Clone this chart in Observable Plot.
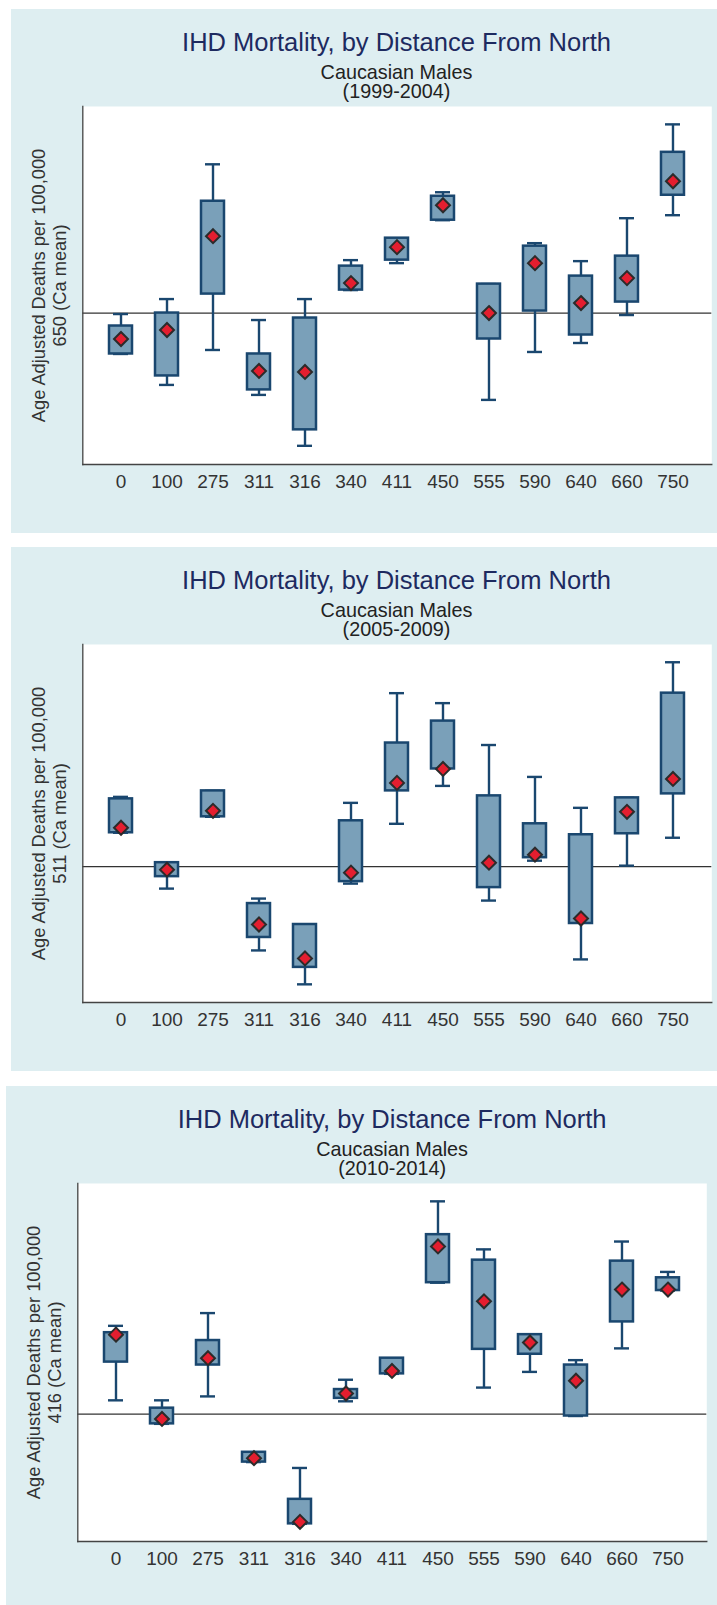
<!DOCTYPE html>
<html><head><meta charset="utf-8">
<script src="https://cdn.jsdelivr.net/npm/d3@7"></script>
<script src="https://cdn.jsdelivr.net/npm/@observablehq/plot@0.6"></script>
<style>
html,body{margin:0;padding:0;background:#fff;overflow:hidden;width:717px;height:1605px;}
.panel{position:absolute;background:#deeef1;overflow:hidden;font-family:"Liberation Sans",Arial,sans-serif;}
.title{position:absolute;left:71.3px;width:629px;text-align:center;color:#1d2a60;font-size:25.5px;line-height:25.5px;top:21.1px;white-space:nowrap;}
.sub{position:absolute;left:71.3px;width:629px;text-align:center;color:#222;font-size:19.8px;line-height:19px;top:53.8px;white-space:nowrap;}
.chart{position:absolute;left:0;top:80px;}
</style></head><body>
<script>
// Categories: distance from north
const cats = ["0","100","275","311","316","340","411","450","555","590","640","660","750"];

const titleText = "IHD Mortality, by Distance From North";
const subtitleText = "Caucasian Males";
const yLabel = "Age Adjusted Deaths per 100,000";

// Panel 1: 1999-2004 (Ca mean 650)
const p1Period = "(1999-2004)";
const p1Ref = 650;
const p1Domain = [498.3, 856.9];
const p1Lo   = [609, 578, 613, 568, 517, 673, 700, 743, 563, 611, 620, 648, 748];
const p1Q1   = [609, 587, 669, 573, 533, 673, 703, 743, 624, 652, 628, 661, 768];
const p1Q3   = [637, 650, 762, 609, 645, 697, 725, 767, 679, 717, 687, 707, 811];
const p1Hi   = [649, 664, 799, 643, 664, 703, 725, 771, 679, 720, 702, 745, 839];
const p1Mean = [624, 633, 727, 592, 591, 680, 716, 758, 650, 700, 660, 685, 782];

// Panel 2: 2005-2009 (Ca mean 511)
const p2Period = "(2005-2009)";
const p2Ref = 511;
const p2Domain = [374.8, 733.8];
const p2Lo   = [545, 489, 561, 427, 393, 494, 554, 592, 477, 517, 418, 512, 540];
const p2Q1   = [545, 501, 561, 440, 410, 496, 587, 609, 490, 520, 454, 544, 584];
const p2Q3   = [579, 515, 587, 474, 453, 557, 635, 657, 582, 554, 543, 580, 685];
const p2Hi   = [581, 515, 587, 479, 453, 575, 685, 675, 633, 601, 570, 580, 716];
const p2Mean = [550, 508, 567, 453, 419, 505, 595, 609, 515, 523, 459, 566, 599];

// Panel 3: 2010-2014 (Ca mean 416)
const p3Period = "(2010-2014)";
const p3Ref = 416;
const p3Domain = [286, 651.2];
const p3Lo   = [430, 406, 434, 367, 304, 429, 457, 550, 443, 459, 414, 483, 542];
const p3Q1   = [469, 406, 466, 367, 304, 432, 457, 550, 482, 477, 414, 510, 542];
const p3Q3   = [499, 422, 491, 377, 329, 441, 473, 599, 573, 497, 466, 572, 555];
const p3Hi   = [506, 430, 519, 377, 361, 451, 473, 633, 584, 497, 471, 592, 561];
const p3Mean = [497, 411, 473, 371, 306, 437, 460, 587, 531, 489, 450, 543, 543];

const panels = [
  {period: p1Period, ref: p1Ref, domain: p1Domain, lo: p1Lo, q1: p1Q1, q3: p1Q3, hi: p1Hi, mean: p1Mean, left: 10.7, top: 9, width: 706.3},
  {period: p2Period, ref: p2Ref, domain: p2Domain, lo: p2Lo, q1: p2Q1, q3: p2Q3, hi: p2Hi, mean: p2Mean, left: 10.7, top: 547, width: 706.3},
  {period: p3Period, ref: p3Ref, domain: p3Domain, lo: p3Lo, q1: p3Q1, q3: p3Q3, hi: p3Hi, mean: p3Mean, left: 6.3, top: 1086, width: 710.7}
];

const navy = "#1a476f";
const boxFill = "#7aa0b9";

for (const p of panels) {
  const div = document.createElement("div");
  div.className = "panel";
  div.style.left = p.left + "px";
  div.style.top = p.top + "px";
  div.style.width = p.width + "px";
  div.style.height = "523.7px";
  document.body.appendChild(div);

  const t = document.createElement("div");
  t.className = "title";
  t.textContent = titleText;
  div.appendChild(t);
  const s = document.createElement("div");
  s.className = "sub";
  s.innerHTML = subtitleText + "<br>" + p.period;
  div.appendChild(s);

  const rows = cats.map((c, i) => ({cat: c, lo: p.lo[i], q1: p.q1[i], q3: p.q3[i], hi: p.hi[i], mean: p.mean[i]}));
  const ml = 71.3, pw = 629;
  const chart = Plot.plot({
    width: p.width,
    height: 444,
    marginLeft: ml,
    marginRight: p.width - ml - pw,
    marginTop: 17,
    marginBottom: 69,
    style: {background: "transparent", fontFamily: "'Liberation Sans', Arial, sans-serif", fontSize: "19px", color: "#333", overflow: "visible"},
    x: {type: "band", domain: cats, paddingInner: 0.464, paddingOuter: 0.482, label: null, tickSize: 0, tickPadding: 10.5},
    y: {domain: p.domain, axis: null},
    marks: [
      Plot.frame({fill: "white", stroke: "none"}),
      Plot.ruleY([p.ref], {stroke: "#333", strokeWidth: 1.2}),
      Plot.ruleX(rows, {x: "cat", y1: "lo", y2: "hi", stroke: navy, strokeWidth: 2.4}),
      Plot.tickY(rows, {x: "cat", y: "lo", stroke: navy, strokeWidth: 2.4, insetLeft: 5, insetRight: 5}),
      Plot.tickY(rows, {x: "cat", y: "hi", stroke: navy, strokeWidth: 2.4, insetLeft: 5, insetRight: 5}),
      Plot.barY(rows, {x: "cat", y1: "q1", y2: "q3", fill: boxFill, stroke: navy, strokeWidth: 2.5, insetLeft: 1, insetRight: 1}),
      Plot.dot(rows, {x: "cat", y: "mean", symbol: "diamond2", r: 6.3, fill: "#e41e2f", stroke: "#2b2b2b", strokeWidth: 2}),
      Plot.frame({anchor: "left", stroke: "#444", strokeWidth: 1.3}),
      Plot.frame({anchor: "bottom", stroke: "#444", strokeWidth: 1.3}),
      Plot.text([yLabel], {text: d => d, frameAnchor: "left", rotate: -90, dx: -37.8, lineAnchor: "bottom", textAnchor: "middle", fontSize: 18.3, fill: "#333"}),
      Plot.text([p.ref + " (Ca mean)"], {text: d => d, frameAnchor: "left", rotate: -90, dx: -17.2, lineAnchor: "bottom", textAnchor: "middle", fontSize: 18.3, fill: "#333"})
    ]
  });
  chart.classList.add("chart");
  chart.style.position = "absolute";
  chart.style.left = "0px";
  chart.style.top = "80px";
  div.appendChild(chart);
}
</script>
</body></html>
